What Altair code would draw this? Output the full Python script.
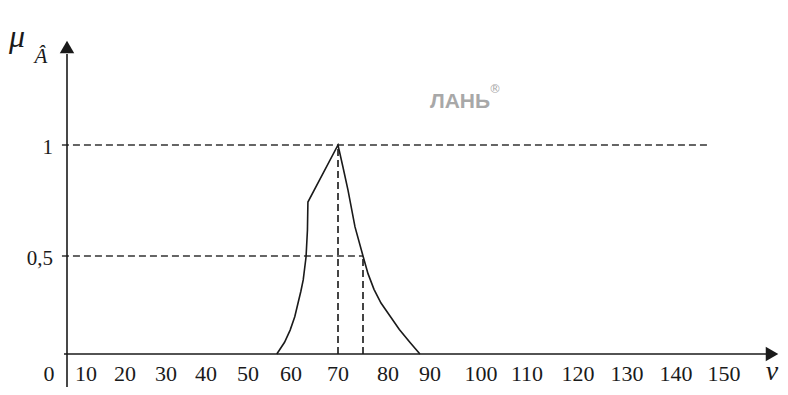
import altair as alt
import pandas as pd

# ---- data ----
tick_values = [0, 10, 20, 30, 40, 50, 60, 70, 80, 90, 100, 110, 120, 130, 140, 150]
tick_labels = [str(v) for v in tick_values]

curve_x = [56.7, 58.5, 59.8, 60.8, 61.5, 62.1, 62.6, 63.2, 63.5, 63.6, 70.0,
           71.0, 72.0, 73.4, 75.0, 76.0, 77.2, 78.6, 80.6, 82.7, 85.2, 87.6]
curve_y = [0.0, 0.06, 0.122, 0.19, 0.26, 0.32, 0.378, 0.495, 0.617, 0.743, 1.0,
           0.9, 0.797, 0.631, 0.5, 0.41, 0.33, 0.26, 0.19, 0.125, 0.06, 0.0]

# dashed guides
h_x0 = [3.5, 3.5]
h_x1 = [147.1, 75.0]
h_y = [1.0, 0.5]
v_x = [70.0, 75.0]
v_y1 = [1.0, 0.5]

y_label_values = [1.0, 0.5]
y_label_texts = ["1", "0,5"]

# ---- scales (hand-drawn figure: non-uniform tick spacing) ----
x_range = [41, 78, 117, 158, 198, 240, 283, 330, 380, 422, 473, 519, 570, 619, 668, 716]
xs = alt.Scale(domain=tick_values, range=x_range, zero=False, nice=False)
ys = alt.Scale(domain=[0, 0.5, 1], range=[346, 248, 137], zero=False, nice=False)

curve_df = pd.DataFrame({"x": curve_x, "y": curve_y, "i": list(range(len(curve_x)))})
h_df = pd.DataFrame({"x0": h_x0, "x1": h_x1, "y": h_y})
v_df = pd.DataFrame({"x": v_x, "y0": [0.0, 0.0], "y1": v_y1})
xt_df = pd.DataFrame({"v": tick_values, "lab": tick_labels})
yt_df = pd.DataFrame({"v": y_label_values, "lab": y_label_texts})

ink = "#1a1a1a"
serif = "Liberation Serif"

curve = alt.Chart(curve_df).mark_line(color=ink, strokeWidth=1.6).encode(
    x=alt.X("x:Q", scale=xs, axis=None),
    y=alt.Y("y:Q", scale=ys, axis=None),
    order="i:Q",
)

hdash = alt.Chart(h_df).mark_rule(color="#333", strokeWidth=1.5, strokeDash=[7, 4]).encode(
    x=alt.X("x0:Q", scale=xs, axis=None),
    x2="x1:Q",
    y=alt.Y("y:Q", scale=ys, axis=None),
)

vdash = alt.Chart(v_df).mark_rule(color="#444", strokeWidth=2, strokeDash=[7, 4]).encode(
    x=alt.X("x:Q", scale=xs, axis=None),
    y=alt.Y("y0:Q", scale=ys, axis=None),
    y2="y1:Q",
)

base_one = pd.DataFrame({"a": [0]})

y_axis = alt.Chart(base_one).mark_rule(color=ink, strokeWidth=1.6).encode(
    x=alt.value(59), y=alt.value(379), y2=alt.value(46)
)
x_axis = alt.Chart(base_one).mark_rule(color=ink, strokeWidth=1.6).encode(
    x=alt.value(56), x2=alt.value(760), y=alt.value(346)
)
y_arrow = alt.Chart(base_one).mark_point(shape="triangle-up", filled=True, color=ink,
                                          size=210, opacity=1).encode(
    x=alt.value(59), y=alt.value(39)
)
x_arrow = alt.Chart(base_one).mark_point(shape="triangle-right", filled=True, color=ink,
                                          size=210, opacity=1).encode(
    x=alt.value(764), y=alt.value(346)
)

x_labels = alt.Chart(xt_df).mark_text(font=serif, fontSize=22, color=ink,
                                       align="center", baseline="alphabetic").encode(
    x=alt.X("v:Q", scale=xs, axis=None),
    y=alt.value(373),
    text="lab:N",
)

y_labels = alt.Chart(yt_df).mark_text(font=serif, fontSize=21, color=ink,
                                       align="right", baseline="middle", dy=3).encode(
    x=alt.value(45),
    y=alt.Y("v:Q", scale=ys, axis=None),
    text="lab:N",
)

mu = alt.Chart(base_one).mark_text(text="μ", font=serif, fontSize=32, fontStyle="italic",
                                   color=ink, align="center", baseline="alphabetic").encode(
    x=alt.value(9), y=alt.value(39)
)
a_hat = alt.Chart(base_one).mark_text(text="Â", font=serif, fontSize=21, fontStyle="italic",
                                      color=ink, align="center", baseline="alphabetic").encode(
    x=alt.value(33), y=alt.value(55)
)
nu = alt.Chart(base_one).mark_text(text="ν", font=serif, fontSize=28, fontStyle="italic",
                                   color=ink, align="center", baseline="alphabetic").encode(
    x=alt.value(764), y=alt.value(372)
)
watermark = alt.Chart(base_one).mark_text(text="ЛАНЬ", font="Liberation Sans",
                                          fontSize=21, fontWeight="bold", color="#a8a8a8",
                                          align="center", baseline="alphabetic").encode(
    x=alt.value(452), y=alt.value(100)
)
reg = alt.Chart(base_one).mark_text(text="®", font="DejaVu Sans", fontSize=12,
                                    color="#a8a8a8", align="center", baseline="middle").encode(
    x=alt.value(487), y=alt.value(81)
)

chart = alt.layer(
    hdash, vdash, curve, x_axis, y_axis, x_arrow, y_arrow,
    x_labels, y_labels, mu, a_hat, nu, watermark, reg,
).properties(
    width=772, height=379, padding=0,
    autosize=alt.AutoSizeParams(type="none"),
    background="white",
).configure_view(stroke=None)

chart.save("out.html", embed_options={"renderer": "svg", "actions": False})
